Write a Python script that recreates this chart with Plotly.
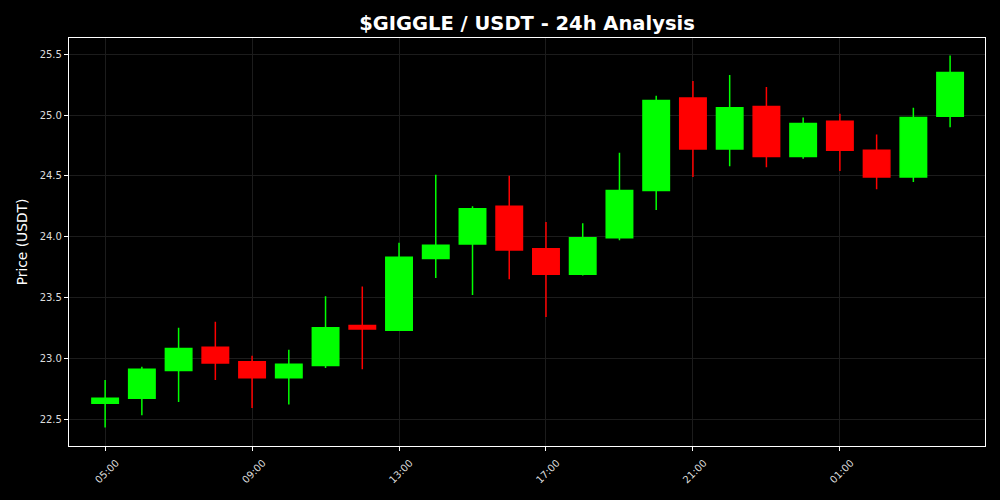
import plotly.graph_objects as go
import pandas as pd

times = pd.date_range("2025-01-01 05:00", periods=24, freq="h")
opens = [22.63, 22.67, 22.90, 23.09, 22.97, 22.84, 22.94, 23.27, 23.23, 23.82, 23.94, 24.25,
         23.90, 23.69, 23.99, 24.38, 25.14, 24.72, 25.07, 24.66, 24.95, 24.71, 24.49, 24.99]
highs = [22.82, 22.93, 23.25, 23.30, 23.02, 23.07, 23.51, 23.59, 23.95, 24.51, 24.25, 24.50,
         24.12, 24.11, 24.69, 25.16, 25.28, 25.33, 25.23, 24.98, 25.01, 24.84, 25.06, 25.49]
lows = [22.43, 22.53, 22.64, 22.82, 22.59, 22.62, 22.92, 22.91, 23.23, 23.66, 23.52, 23.65,
        23.34, 23.68, 23.97, 24.22, 24.49, 24.58, 24.57, 24.64, 24.54, 24.39, 24.45, 24.90]
closes = [22.67, 22.91, 23.08, 22.96, 22.84, 22.95, 23.25, 23.24, 23.83, 23.93, 24.23, 23.89,
          23.69, 23.99, 24.38, 25.12, 24.72, 25.06, 24.66, 24.93, 24.71, 24.49, 24.98, 25.35]
tick_times = pd.to_datetime(["2025-01-01 05:00", "2025-01-01 09:00", "2025-01-01 13:00",
                             "2025-01-01 17:00", "2025-01-01 21:00", "2025-01-02 01:00"])
ytick_vals = [22.5, 23.0, 23.5, 24.0, 24.5, 25.0, 25.5]

fig = go.Figure(go.Candlestick(
    x=times, open=opens, high=highs, low=lows, close=closes,
    increasing=dict(line=dict(color="#00ff00", width=1.5), fillcolor="#00ff00"),
    decreasing=dict(line=dict(color="#ff0000", width=1.5), fillcolor="#ff0000"),
    whiskerwidth=0, showlegend=False,
))

x0 = pd.Timestamp("2025-01-01 05:00")
fig.update_layout(
    width=1000, height=500,
    paper_bgcolor="black", plot_bgcolor="black",
    margin=dict(l=69, r=15, t=38, b=54),
    boxgap=0.28, boxgroupgap=0,
    font=dict(family="DejaVu Sans", color="white"),
    title=dict(text="<b>$GIGGLE / USDT - 24h Analysis</b>", x=0.527, xanchor="center",
               y=0.954, yanchor="middle", font=dict(size=19.5, color="white")),
    xaxis=dict(
        range=[x0 - pd.Timedelta(minutes=59), x0 + pd.Timedelta(minutes=int(23.95 * 60))],
        rangeslider=dict(visible=False),
        tickvals=tick_times, tickformat="%H:%M", tickangle=-45,
        tickfont=dict(size=10, color="#dddddd"),
        ticklabelshift=11, ticklabelstandoff=2,
        showgrid=True, gridcolor="#1c1c1c", gridwidth=1,
        showline=True, linecolor="white", linewidth=1.2, mirror=True,
        ticks="outside", tickcolor="white", ticklen=4,
        zeroline=False,
    ),
    yaxis=dict(
        range=[22.278, 25.634],
        tickvals=ytick_vals, tickformat=".1f",
        tickfont=dict(size=10, color="#dddddd"),
        title=dict(text="Price (USDT)", font=dict(size=13.8, color="white"), standoff=8),
        showgrid=True, gridcolor="#1c1c1c", gridwidth=1,
        showline=True, linecolor="white", linewidth=1.2, mirror=True,
        ticks="outside", tickcolor="white", ticklen=4,
        zeroline=False,
    ),
)

fig.write_html("out.html", config={"displayModeBar": False},
               post_script="document.body.style.margin='0';document.body.style.background='black';")
